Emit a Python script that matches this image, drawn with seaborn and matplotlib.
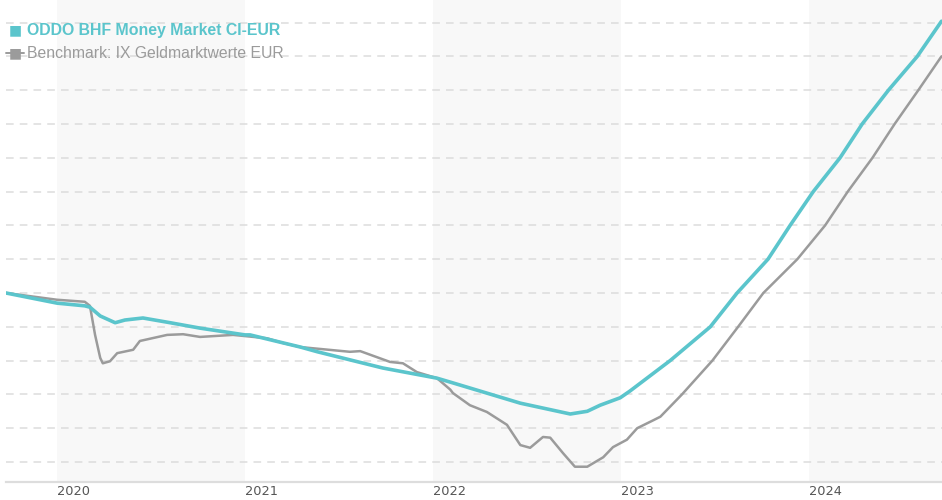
import numpy as np
import pandas as pd
import seaborn as sns
import matplotlib.pyplot as plt
import matplotlib.dates as mdates

# fund (teal) - performance in %
fund_dates = ["2019-09-24", "2020-01-01", "2020-02-24", "2020-03-05", "2020-03-25",
              "2020-04-23", "2020-05-12", "2020-06-16", "2020-08-08", "2020-10-05",
              "2020-12-31", "2021-01-10", "2021-04-18", "2021-05-21", "2021-09-25",
              "2022-01-08", "2022-02-08", "2022-06-19", "2022-09-24", "2022-10-27",
              "2022-11-21", "2022-12-30", "2023-01-18", "2023-04-06", "2023-06-23",
              "2023-08-14", "2023-10-13", "2023-11-25", "2024-01-09", "2024-03-01",
              "2024-04-13", "2024-06-03", "2024-07-29", "2024-09-14"]
fund_vals = [0.00, -0.15, -0.19, -0.21, -0.34,
             -0.44, -0.40, -0.37, -0.44, -0.52,
             -0.62, -0.62, -0.80, -0.87, -1.11,
             -1.26, -1.33, -1.63, -1.79, -1.75,
             -1.66, -1.55, -1.45, -1.00, -0.50,
             0.00, 0.50, 1.00, 1.50, 2.00,
             2.50, 3.00, 3.50, 4.02]

# benchmark (grey)
bench_dates = ["2019-09-24", "2020-01-01", "2020-02-24", "2020-03-05", "2020-03-15",
               "2020-03-25", "2020-03-30", "2020-04-13", "2020-04-27", "2020-05-28",
               "2020-06-10", "2020-08-02", "2020-09-02", "2020-10-05", "2020-12-08",
               "2021-02-12", "2021-03-15", "2021-04-18", "2021-07-23", "2021-08-12",
               "2021-10-09", "2021-11-03", "2021-11-30", "2022-01-08", "2022-02-03",
               "2022-02-08", "2022-03-13", "2022-04-15", "2022-05-24", "2022-06-19",
               "2022-07-08", "2022-08-02", "2022-08-16", "2022-09-10", "2022-10-03",
               "2022-10-27", "2022-11-27", "2022-12-16", "2023-01-12", "2023-02-01",
               "2023-03-05", "2023-03-18", "2023-04-29", "2023-06-27", "2023-08-16",
               "2023-10-04", "2023-12-09", "2024-02-01", "2024-03-16", "2024-05-03",
               "2024-06-15", "2024-07-31", "2024-09-14"]
bench_vals = [0.00, -0.10, -0.13, -0.19, -0.62,
              -0.96, -1.04, -1.01, -0.89, -0.84,
              -0.71, -0.62, -0.61, -0.65, -0.62,
              -0.67, -0.74, -0.80, -0.87, -0.86,
              -1.02, -1.04, -1.17, -1.26, -1.43,
              -1.48, -1.66, -1.76, -1.95, -2.25,
              -2.29, -2.13, -2.14, -2.37, -2.57,
              -2.57, -2.43, -2.28, -2.17, -2.00,
              -1.88, -1.83, -1.50, -1.00, -0.50,
              0.00, 0.50, 1.00, 1.50, 2.00,
              2.50, 3.00, 3.50]

years = [2020, 2021, 2022, 2023, 2024]
shaded_years = [2020, 2022, 2024]

fund_name = "ODDO BHF Money Market CI-EUR"
bench_name = "Benchmark: IX Geldmarktwerte EUR"

df = pd.concat([
    pd.DataFrame({"date": pd.to_datetime(fund_dates), "perf": fund_vals, "series": fund_name}),
    pd.DataFrame({"date": pd.to_datetime(bench_dates), "perf": bench_vals, "series": bench_name}),
])

sns.set_style("white")
teal = "#5bc5cc"
grey = "#9b9b9b"

fig = plt.figure(figsize=(9.42, 5.0), dpi=100)
ax = fig.add_axes([6 / 942, 18 / 500, 936 / 942, 482 / 500])

x0 = pd.Timestamp("2019-09-24")
x1 = pd.Timestamp("2024-09-15")

# alternating year bands
for yr in shaded_years:
    ax.axvspan(pd.Timestamp(f"{yr}-01-01"), min(pd.Timestamp(f"{yr + 1}-01-01"), x1),
               color="#f8f8f8", zorder=0, lw=0)

for v in np.arange(-2.5, 4.01, 0.5):
    ax.axhline(v, color="#dcdcdc", lw=1.1, ls=(0, (5, 4)), zorder=1)

sns.lineplot(data=df[df.series == bench_name], x="date", y="perf", color=grey,
             lw=1.8, ax=ax, zorder=3, legend=False)
sns.lineplot(data=df[df.series == fund_name], x="date", y="perf", color=teal,
             lw=2.6, ax=ax, zorder=4, legend=False)

ax.set_xlim(x0, x1)
ax.set_ylim(-2.796, 4.334)
ax.set_xlabel("")
ax.set_ylabel("")
ax.set_yticks([])
ax.set_xticks([pd.Timestamp(f"{y}-01-01") for y in years])
ax.xaxis.set_major_formatter(mdates.DateFormatter("%Y"))
ax.tick_params(axis="x", length=0, pad=2.5, labelsize=9.3, labelcolor="#555555")
for lbl in ax.get_xticklabels():
    lbl.set_horizontalalignment("left")
for s in ["top", "left", "right"]:
    ax.spines[s].set_visible(False)
ax.spines["bottom"].set_color("#dddddd")
ax.spines["bottom"].set_linewidth(1.6)

# legend drawn by hand (square symbol + label)
fig.add_artist(plt.Line2D([6 / 942, 24 / 942], [1 - 53 / 500, 1 - 53 / 500],
                          color=grey, lw=1.4))
fig.text(9 / 942, 1 - 30 / 500, "■", color=teal, fontsize=10, va="center",
         family="DejaVu Sans")
fig.text(27 / 942, 1 - 30 / 500, fund_name, color=teal, fontsize=11.4,
         fontweight="bold", va="center", family="Liberation Sans")
fig.text(9 / 942, 1 - 53 / 500, "■", color=grey, fontsize=10, va="center",
         family="DejaVu Sans")
fig.text(27 / 942, 1 - 53 / 500, bench_name, color=grey, fontsize=11.3,
         va="center", family="Liberation Sans")

fig.savefig("out.png", dpi=100)
